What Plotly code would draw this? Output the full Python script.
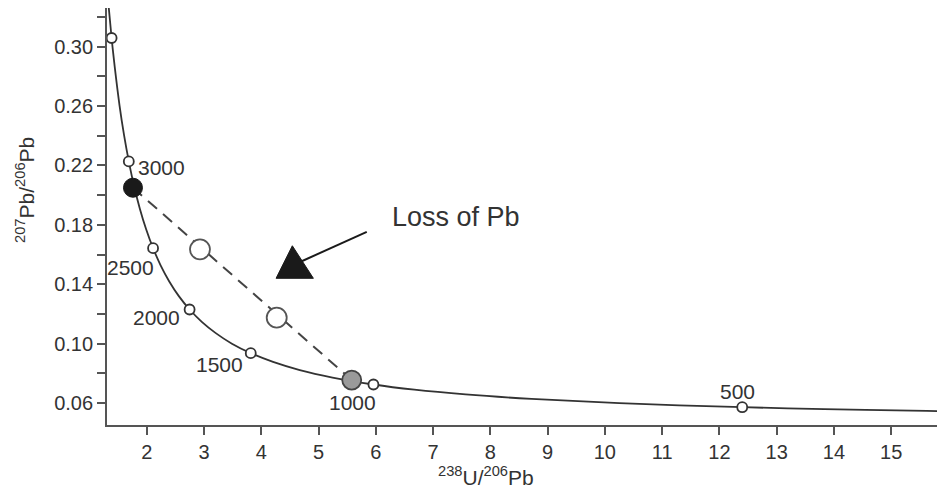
import plotly.graph_objects as go

# Tera-Wasserburg concordia curve (238U/206Pb vs 207Pb/206Pb)
curve_x = [1.337, 1.387, 1.440, 1.525, 1.603, 1.6875, 1.779, 1.880, 1.990, 2.111,
           2.245, 2.394, 2.561, 2.749, 2.962, 3.206, 3.488, 3.817, 4.206, 4.673,
           5.245, 5.959, 6.674, 7.568, 8.718, 10.252, 12.399, 13.831, 15.621, 16.034]
curve_y = [0.3264, 0.3058, 0.2868, 0.2605, 0.2407, 0.2227, 0.2061, 0.1909, 0.1770, 0.1643,
           0.1526, 0.1419, 0.1320, 0.1230, 0.1147, 0.1071, 0.1000, 0.0936, 0.0877, 0.0822,
           0.0772, 0.0725, 0.0690, 0.0658, 0.0628, 0.0599, 0.0572, 0.0559, 0.0547, 0.0545]

# Age markers on the concordia (Ma)
age_x = [1.387, 1.6875, 2.111, 2.749, 3.817, 5.959, 12.399]
age_y = [0.3058, 0.2227, 0.1643, 0.1230, 0.0936, 0.0725, 0.0572]
age_labels = ["", "3000", "2500", "2000", "1500", "1000", "500"]

# Discordant samples along the Pb-loss line
orig_x, orig_y = [1.76], [0.205]
disc_x, disc_y = [2.93, 4.27], [0.1635, 0.1175]
lower_x, lower_y = [5.58], [0.0755]

# "Loss of Pb" pointer
arrow_line_x = [5.843, 4.678]
arrow_line_y = [0.1753, 0.1550]
arrow_head_x = [4.543, 4.259, 4.910, 4.543]
arrow_head_y = [0.1659, 0.1440, 0.1440, 0.1659]

x_ticks = list(range(2, 16))
y_ticks = [0.06, 0.10, 0.14, 0.18, 0.22, 0.26, 0.30]
y_ticktext = ["0.06", "0.10", "0.14", "0.18", "0.22", "0.26", "0.30"]
y_minor_ticks = [0.08, 0.12, 0.16, 0.20, 0.24, 0.28, 0.32]

FONT = "Liberation Sans, Arial, sans-serif"
TXT = "#333333"
LINE = "#333333"

fig = go.Figure()

# Pb-loss discordia (dashed)
fig.add_trace(go.Scatter(
    x=[orig_x[0], lower_x[0]], y=[orig_y[0], lower_y[0]], mode="lines",
    line=dict(color="#444444", width=2, dash="12px,8px"), hoverinfo="skip"))

# Concordia
fig.add_trace(go.Scatter(
    x=curve_x, y=curve_y, mode="lines", line=dict(color=LINE, width=1.8, shape="spline"),
    hoverinfo="skip"))

# Age ticks on concordia
fig.add_trace(go.Scatter(
    x=age_x, y=age_y, mode="markers",
    marker=dict(size=10, color="white", line=dict(color=LINE, width=1.8))))

# Samples
fig.add_trace(go.Scatter(
    x=disc_x, y=disc_y, mode="markers",
    marker=dict(size=20, color="white", line=dict(color="#555555", width=1.8))))
fig.add_trace(go.Scatter(
    x=orig_x, y=orig_y, mode="markers",
    marker=dict(size=19, color="#1a1a1a", line=dict(color="#1a1a1a", width=1))))
fig.add_trace(go.Scatter(
    x=lower_x, y=lower_y, mode="markers",
    marker=dict(size=19, color="#9a9a9a", line=dict(color="#444444", width=1.8))))

# Pointer
fig.add_trace(go.Scatter(
    x=arrow_line_x, y=arrow_line_y, mode="lines",
    line=dict(color="#1a1a1a", width=2), hoverinfo="skip"))
fig.add_trace(go.Scatter(
    x=arrow_head_x, y=arrow_head_y, mode="lines", fill="toself",
    fillcolor="#1a1a1a", line=dict(color="#1a1a1a", width=1), hoverinfo="skip"))

# Age labels
label_offsets = {
    "3000": dict(xanchor="left", xshift=7, yshift=-6),
    "2500": dict(xanchor="right", xshift=3, yshift=-19),
    "2000": dict(xanchor="right", xshift=-8, yshift=-8),
    "1500": dict(xanchor="right", xshift=-6, yshift=-11),
    "1000": dict(xanchor="right", xshift=5, yshift=-18),
    "500": dict(xanchor="center", xshift=-5, yshift=16),
}
for ax_, ay_, lab in zip(age_x, age_y, age_labels):
    if not lab:
        continue
    fig.add_annotation(x=ax_, y=ay_, text=lab, showarrow=False, yanchor="middle",
                       font=dict(family=FONT, size=21, color=TXT), **label_offsets[lab])

fig.add_annotation(x=6.25, y=0.1854, text="Loss of Pb", showarrow=False,
                   xanchor="left", yanchor="middle",
                   font=dict(family=FONT, size=27, color=TXT))

# Axis titles
fig.add_annotation(xref="paper", yref="paper", x=-0.0988, y=0.5636,
                   text="<sup>207</sup>Pb/<sup>206</sup>Pb", textangle=-90,
                   showarrow=False, xanchor="center", yanchor="middle",
                   font=dict(family=FONT, size=21, color=TXT))
fig.add_annotation(xref="paper", yref="paper", x=0.4566, y=-0.158,
                   text="<sup>238</sup>U/<sup>206</sup>Pb",
                   showarrow=False, xanchor="center", yanchor="bottom",
                   font=dict(family=FONT, size=21, color=TXT))

fig.update_layout(
    width=937, height=494,
    margin=dict(l=107, r=0, t=8, b=69),
    paper_bgcolor="white", plot_bgcolor="white",
    showlegend=False,
    font=dict(family=FONT, color=TXT),
)
fig.update_xaxes(
    range=[1.3066, 15.80], tickmode="array", tickvals=x_ticks,
    ticks="outside", ticklen=8, tickwidth=1.5, tickcolor="#555555",
    showline=True, linecolor="#555555", linewidth=1.8, showgrid=False, zeroline=False,
    tickfont=dict(family=FONT, size=20, color=TXT))
fig.update_yaxes(
    range=[0.04523, 0.326], tickmode="array", tickvals=y_ticks, ticktext=y_ticktext,
    ticks="outside", ticklen=8, tickwidth=1.5, tickcolor="#555555",
    minor=dict(tickmode="array", tickvals=y_minor_ticks, ticks="outside",
               ticklen=8, tickwidth=1.5, tickcolor="#555555", showgrid=False),
    showline=True, linecolor="#555555", linewidth=1.8, showgrid=False, zeroline=False,
    tickfont=dict(family=FONT, size=20, color=TXT))

fig.write_html("out.html")
